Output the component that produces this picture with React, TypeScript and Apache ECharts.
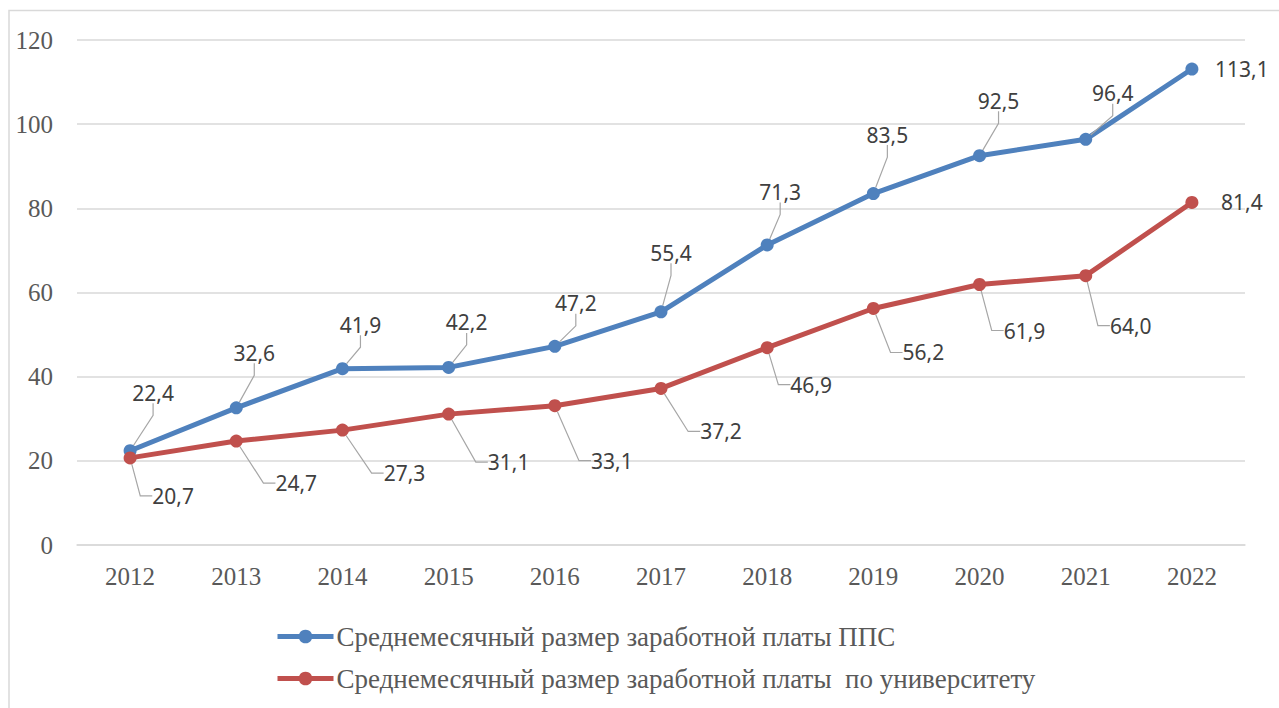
import React, { useEffect, useRef } from "react";
import * as echarts from "echarts";

const years = ["2012", "2013", "2014", "2015", "2016", "2017", "2018", "2019", "2020", "2021", "2022"];
const ppsSalary = [22.4, 32.6, 41.9, 42.2, 47.2, 55.4, 71.3, 83.5, 92.5, 96.4, 113.1];
const uniSalary = [20.7, 24.7, 27.3, 31.1, 33.1, 37.2, 46.9, 56.2, 61.9, 64.0, 81.4];
const seriesNames = [
  "Среднемесячный размер заработной платы ППС",
  "Среднемесячный размер заработной платы  по университету",
];
const yTicks = { min: 0, max: 120, interval: 20 };

// label offsets (px) from each point – styling only
const ppsLabelOffsets = [[23, -58], [18, -55], [18, -44], [18, -45], [21, -43], [10, -59], [13, -53], [14, -59], [19, -55], [27, -46], [50, 0]];
const uniLabelOffsets = [[43, 38], [60, 42], [62, 43], [60, 48], [57, 55], [60, 43], [44, 37], [50, 44], [45, 46], [45, 50], [50, 0]];

const BLUE = "#4f81bd";
const RED = "#c0504d";

export default function App() {
  const ref = useRef<HTMLDivElement>(null);
  useEffect(() => {
    if (!ref.current) return;
    const chart = echarts.init(ref.current, undefined, { renderer: "svg" });
    const offsets = [ppsLabelOffsets, uniLabelOffsets];
    const fmt = (v: number) => v.toFixed(1).replace(".", ",");
    const mkData = (arr: number[]) =>
      arr.map((v, i) =>
        i === arr.length - 1 ? { value: v, labelLine: { show: false } } : { value: v }
      );
    const mkSeries = (name: string, data: number[], color: string) => ({
      name,
      type: "line",
      data: mkData(data),
      symbol: "circle",
      symbolSize: 13,
      lineStyle: { color, width: 5 },
      itemStyle: { color },
      label: {
        show: true,
        position: "inside",
        formatter: (p: any) => fmt(p.value),
        fontFamily: "Noto Sans",
        fontSize: 21,
        color: "#404040",
      },
      labelLine: {
        show: true,
        length2: 12,
        lineStyle: { color: "#a6a6a6", width: 1.2 },
      },
      labelLayout: (p: any) => {
        const o = offsets[p.seriesIndex][p.dataIndex];
        return { dx: o[0], dy: o[1] };
      },
      emphasis: { disabled: true },
    });
    chart.setOption({
      animation: false,
      graphic: [
        {
          type: "rect",
          shape: { x: 9, y: 10.5, width: 1400, height: 800 },
          style: { fill: "none", stroke: "#d9d9d9", lineWidth: 1.5 },
          silent: true,
        },
      ],
      grid: { left: 77, right: 34, top: 40, bottom: 163 },
      xAxis: {
        type: "category",
        data: years,
        boundaryGap: true,
        axisLine: { show: true, lineStyle: { color: "#d9d9d9", width: 1.5 } },
        axisTick: { show: false },
        axisLabel: {
          fontFamily: "Liberation Serif",
          fontSize: 25,
          color: "#595959",
          margin: 19,
        },
      },
      yAxis: {
        type: "value",
        min: yTicks.min,
        max: yTicks.max,
        interval: yTicks.interval,
        axisLine: { show: false },
        axisTick: { show: false },
        splitLine: { lineStyle: { color: "#d9d9d9", width: 1.5 } },
        axisLabel: {
          fontFamily: "Liberation Serif",
          fontSize: 25,
          color: "#595959",
          margin: 24,
        },
      },
      legend: {
        orient: "vertical",
        left: 270,
        top: 618,
        itemWidth: 56,
        itemHeight: 17,
        itemGap: 15,
        lineStyle: { width: 5 },
        textStyle: {
          fontFamily: "Liberation Serif",
          fontSize: 27,
          color: "#595959",
          lineHeight: 27,
          padding: [0, 0, 0, -2],
        },
        data: seriesNames,
      },
      series: [mkSeries(seriesNames[0], ppsSalary, BLUE), mkSeries(seriesNames[1], uniSalary, RED)],
    });
    return () => chart.dispose();
  }, []);
  return (
    <div
      ref={ref}
      style={{ position: "absolute", left: 0, top: 0, width: 1279, height: 708, background: "#fff" }}
    />
  );
}
